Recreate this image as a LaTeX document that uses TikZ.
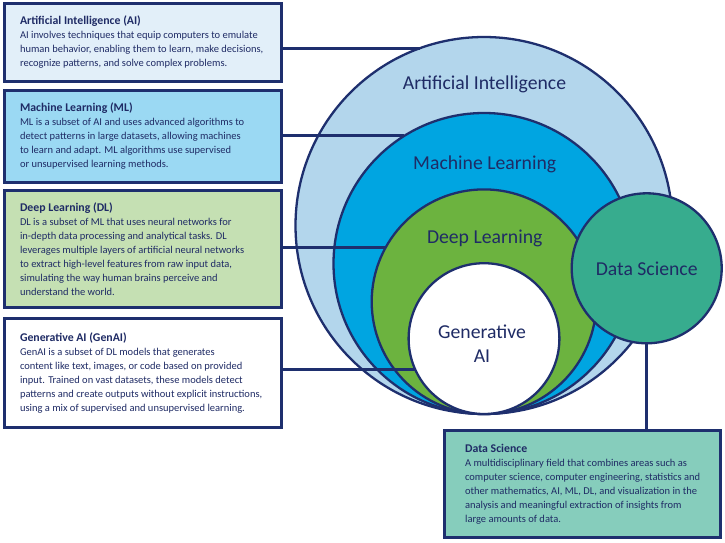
\documentclass[tikz,border=0pt]{standalone}
\usepackage{fontspec}
\setmainfont{Carlito}
\definecolor{navy}{HTML}{1E2F6E}
\definecolor{txtc}{HTML}{1F2B65}
\definecolor{aiboxc}{HTML}{E2EFF9}
\definecolor{mlboxc}{HTML}{9BD9F3}
\definecolor{dlboxc}{HTML}{C5E0B3}
\definecolor{dsboxc}{HTML}{86CDBC}
\definecolor{aicirc}{HTML}{B3D6EC}
\definecolor{mlcirc}{HTML}{00A5E1}
\definecolor{dlcirc}{HTML}{6CB33F}
\definecolor{dscirc}{HTML}{37AC8E}
\begin{document}
\begin{tikzpicture}[x=1pt,y=-1pt,
  box/.style={draw=navy, line width=3pt, rectangle, inner sep=0pt, outer sep=0pt, minimum width=277pt},
  circ/.style={circle, draw=navy, line width=2.3pt, inner sep=0pt, outer sep=0pt},
  conn/.style={draw=navy, line width=2.8pt},
  txt/.style={anchor=west, align=left, inner sep=0pt, text=txtc, font=\fontsize{10.5}{14}\selectfont},
  lbl/.style={text=txtc, font=\fontsize{19.7}{24.3}\selectfont, inner sep=0pt, align=center}]
\useasboundingbox (0,0) rectangle (725,543);
\fill[white] (0,0) rectangle (725,543);

% circles
\node[circ, fill=aicirc, minimum size=377pt] (aic) at (484,225.5) {};
\node[circ, fill=mlcirc, minimum size=301pt] (mlc) at (484,263.5) {};
\node[circ, fill=dlcirc, minimum size=224.6pt] (dlc) at (484,301.7) {};
\node[circ, fill=white, minimum size=150.8pt] (genc) at (484,338.6) {};
\node[circ, fill=dscirc, minimum size=150pt, lbl] (dsc) at (646.7,268.3) {Data Science};

\node[lbl] (ailbl) at (484.5,84) {Artificial Intelligence};
\node[lbl] (mllbl) at (484.7,164) {Machine Learning};
\node[lbl] (dllbl) at (484.7,238) {Deep Learning};
\node[lbl] (genlbl) at (482,343.5) {Generative\\AI};

% boxes
\node[box, fill=aiboxc, minimum height=77pt] (aibox) at (142.5,42.5) {};
\node[box, fill=mlboxc, minimum height=92pt] (mlbox) at (142.5,136) {};
\node[box, fill=dlboxc, minimum height=117pt] (dlbox) at (142.5,249.2) {};
\node[box, fill=white, minimum height=109.5pt] (genbox) at (142.5,372.8) {};
\node[box, fill=dsboxc, minimum height=107.5pt, minimum width=276pt] (dsbox) at (582.9,483.8) {};

\node[txt] (aitxt) at ([xshift=15.8pt]aibox.west) {{\fontsize{11.8}{14}\selectfont\bfseries Artificial Intelligence (AI)}\\
AI involves techniques that equip computers to emulate\\
human behavior, enabling them to learn, make decisions,\\
recognize patterns, and solve complex problems.};

\node[txt] (mltxt) at ([xshift=15.8pt]mlbox.west) {{\fontsize{11.8}{14}\selectfont\bfseries Machine Learning (ML)}\\
ML is a subset of AI and uses advanced algorithms to\\
detect patterns in large datasets, allowing machines\\
to learn and adapt. ML algorithms use supervised\\
or unsupervised learning methods.};

\node[txt] (dltxt) at ([xshift=15.8pt]dlbox.west) {{\fontsize{11.8}{14}\selectfont\bfseries Deep Learning (DL)}\\
DL is a subset of ML that uses neural networks for\\
in-depth data processing and analytical tasks. DL\\
leverages multiple layers of artificial neural networks\\
to extract high-level features from raw input data,\\
simulating the way human brains perceive and\\
understand the world.};

\node[txt] (gentxt) at ([xshift=15.8pt]genbox.west) {{\fontsize{11.8}{14}\selectfont\bfseries Generative AI (GenAI)}\\
GenAI is a subset of DL models that generates\\
content like text, images, or code based on provided\\
input. Trained on vast datasets, these models detect\\
patterns and create outputs without explicit instructions,\\
using a mix of supervised and unsupervised learning.};

\node[txt] (dstxt) at ([xshift=20pt]dsbox.west) {{\fontsize{11.8}{14}\selectfont\bfseries Data Science}\\
A multidisciplinary field that combines areas such as\\
computer science, computer engineering, statistics and\\
other mathematics, AI, ML, DL, and visualization in the\\
analysis and meaningful extraction of insights from\\
large amounts of data.};

% connectors
\draw[conn] (aibox.east |- aic.110.8) -- (aic.110.8);
\draw[conn] (mlbox.east |- mlc.122.6) -- (mlc.122.6);
\draw[conn] (dlbox.east |- dlc.151.3) -- (dlc.151.3);
\draw[conn] (genbox.east |- genc.204.6) -- (genc.204.6);
\draw[conn] (dsc.south) -- (dsc.south |- dsbox.north);
\end{tikzpicture}
\end{document}
